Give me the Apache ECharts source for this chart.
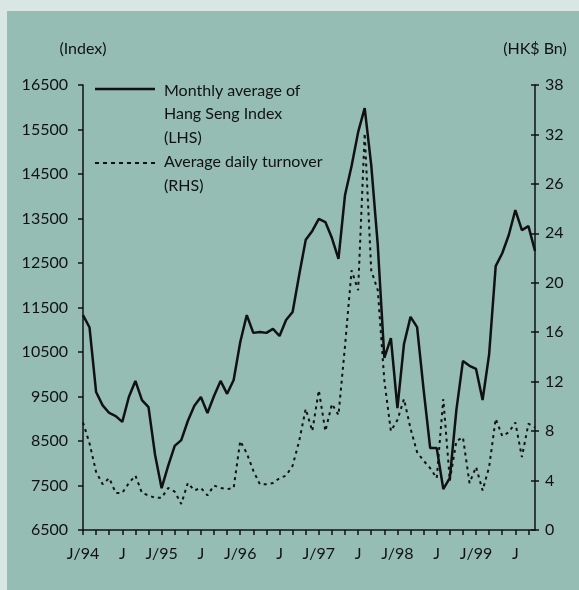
<!DOCTYPE html>
<html>
<head>
<meta charset="utf-8">
<script src="https://cdn.jsdelivr.net/npm/echarts@6/dist/echarts.min.js"></script>
<style>
  html, body { margin: 0; padding: 0; background: #d8e7e3; }
  #chart { position: absolute; left: 7px; top: 11px; width: 572px; height: 579px; }
</style>
</head>
<body>
<div id="chart"></div>
<script>
// 月份：1994年1月至1999年10月
var months = [];
for (var y = 1994; y <= 1999; y++) {
  for (var m = 1; m <= 12; m++) {
    if (y === 1999 && m > 10) break;
    months.push(y + '-' + (m < 10 ? '0' + m : m));
  }
}

// 恒生指数月平均 (左轴)
var hsiAvg = [
  11330, 11050, 9600, 9300, 9130, 9060, 8930, 9490, 9850, 9420, 9260, 8190,
  7440, 7940, 8390, 8520, 8950, 9290, 9490, 9130, 9510, 9850, 9560, 9870,
  10720, 11330, 10930, 10950, 10930, 11020, 10860, 11220, 11400, 12230, 13020, 13220,
  13490, 13420, 13060, 12590, 14030, 14680, 15440, 15980, 14700, 12900, 10370, 10810,
  9240, 10680, 11290, 11060, 9650, 8340, 8340, 7420, 7670, 9200, 10300, 10190,
  10120, 9420, 10450, 12430, 12720, 13130, 13690, 13240, 13330, 12770
];

// 平均每日成交额 (右轴, HK$ Bn)
var turnover = [
  8.7, 7.0, 4.7, 3.7, 4.2, 3.0, 3.0, 3.8, 4.4, 3.0, 2.8, 2.6,
  2.6, 3.4, 3.1, 2.1, 3.8, 3.2, 3.4, 2.8, 3.6, 3.4, 3.3, 3.4,
  7.2, 6.2, 4.8, 3.7, 3.7, 3.8, 4.2, 4.4, 5.2, 7.2, 9.8, 8.0,
  11.3, 8.0, 10.2, 9.3, 14.9, 21.0, 19.4, 32.1, 21.0, 19.4, 12.1, 8.0,
  8.9, 10.6, 8.2, 6.3, 5.6, 5.0, 4.2, 10.6, 4.0, 7.2, 7.5, 3.8,
  5.1, 3.2, 5.1, 9.0, 7.6, 7.9, 8.7, 5.9, 8.6, 8.3
];

// x轴刻度标签 (按月份序号)
var xTickLabels = {0: 'J/94', 6: 'J', 12: 'J/95', 18: 'J', 24: 'J/96', 30: 'J',
  36: 'J/97', 42: 'J', 48: 'J/98', 54: 'J', 60: 'J/99', 66: 'J'};
// 右轴刻度标签 (照原图)
var rightTickLabels = ['0', '4', '8', '12', '16', '20', '24', '26', '32', '38'];

var font = 'Lato';
var ink = '#111';

var myChart = echarts.init(document.getElementById('chart'));

var option = {
  backgroundColor: '#95bdb3',
  animation: false,
  textStyle: { fontFamily: font },
  grid: { left: 76, right: 44, top: 74, bottom: 60 },
  xAxis: {
    type: 'category',
    data: months,
    boundaryGap: false,
    axisLine: { lineStyle: { color: ink, width: 1.5 } },
    axisTick: { interval: 1, length: 5, lineStyle: { color: ink, width: 1.5 } },
    axisLabel: {
      interval: function (i) { return xTickLabels[i] !== undefined; },
      formatter: function (v, i) { return xTickLabels[i] || ''; },
      color: ink, fontSize: 16, fontFamily: font, margin: 16
    },
    splitLine: { show: false }
  },
  yAxis: [
    {
      type: 'value',
      position: 'left',
      min: 6500,
      max: 16500,
      interval: 1000,
      name: '(Index)',
      nameLocation: 'end',
      nameGap: 28,
      nameTextStyle: { color: ink, fontSize: 16, fontFamily: font, align: 'center' },
      axisLine: { show: true, lineStyle: { color: ink, width: 1.5 } },
      axisTick: { show: true, length: 5, lineStyle: { color: ink, width: 1.5 } },
      axisLabel: {
        color: ink, fontSize: 16, fontFamily: font, margin: 15,
        formatter: function (v) { return String(v); }
      },
      splitLine: { show: false }
    },
    {
      type: 'value',
      position: 'right',
      min: 0,
      max: 36,
      interval: 4,
      name: '(HK$ Bn)',
      nameLocation: 'end',
      nameGap: 28,
      nameTextStyle: { color: ink, fontSize: 16, fontFamily: font, align: 'center' },
      axisLine: { show: true, lineStyle: { color: ink, width: 1.5 } },
      axisTick: { show: true, length: 4, lineStyle: { color: ink, width: 1.5 } },
      axisLabel: {
        color: ink, fontSize: 16, fontFamily: font, margin: 10,
        formatter: function (v) { return rightTickLabels[Math.round(v / 4)]; }
      },
      splitLine: { show: false }
    },
    {
      // 右轴刻度向内的一半
      type: 'value',
      position: 'right',
      min: 0,
      max: 36,
      interval: 4,
      axisLine: { show: false },
      axisTick: { show: true, inside: true, length: 4, lineStyle: { color: ink, width: 1.5 } },
      axisLabel: { show: false },
      splitLine: { show: false }
    }
  ],
  graphic: [
    { type: 'line', shape: { x1: 88, y1: 78, x2: 148, y2: 78 }, style: { stroke: ink, lineWidth: 2.5 } },
    { type: 'line', shape: { x1: 88, y1: 152, x2: 148, y2: 152 }, style: { stroke: ink, lineWidth: 2, lineDash: [4, 4] } },
    { type: 'text', left: 157, top: 72, style: { text: 'Monthly average of', fill: ink, font: '16px Lato' } },
    { type: 'text', left: 157, top: 95, style: { text: 'Hang Seng Index', fill: ink, font: '16px Lato' } },
    { type: 'text', left: 157, top: 119, style: { text: '(LHS)', fill: ink, font: '16px Lato' } },
    { type: 'text', left: 157, top: 143, style: { text: 'Average daily turnover', fill: ink, font: '16px Lato' } },
    { type: 'text', left: 157, top: 167, style: { text: '(RHS)', fill: ink, font: '16px Lato' } }
  ],
  series: [
    {
      name: 'Monthly average of Hang Seng Index (LHS)',
      type: 'line',
      yAxisIndex: 0,
      data: hsiAvg,
      symbol: 'none',
      lineStyle: { color: ink, width: 2.5 }
    },
    {
      name: 'Average daily turnover (RHS)',
      type: 'line',
      yAxisIndex: 1,
      data: turnover,
      symbol: 'none',
      lineStyle: { color: ink, width: 2, type: [3, 4] }
    }
  ]
};

myChart.setOption(option);
</script>
</body>
</html>
